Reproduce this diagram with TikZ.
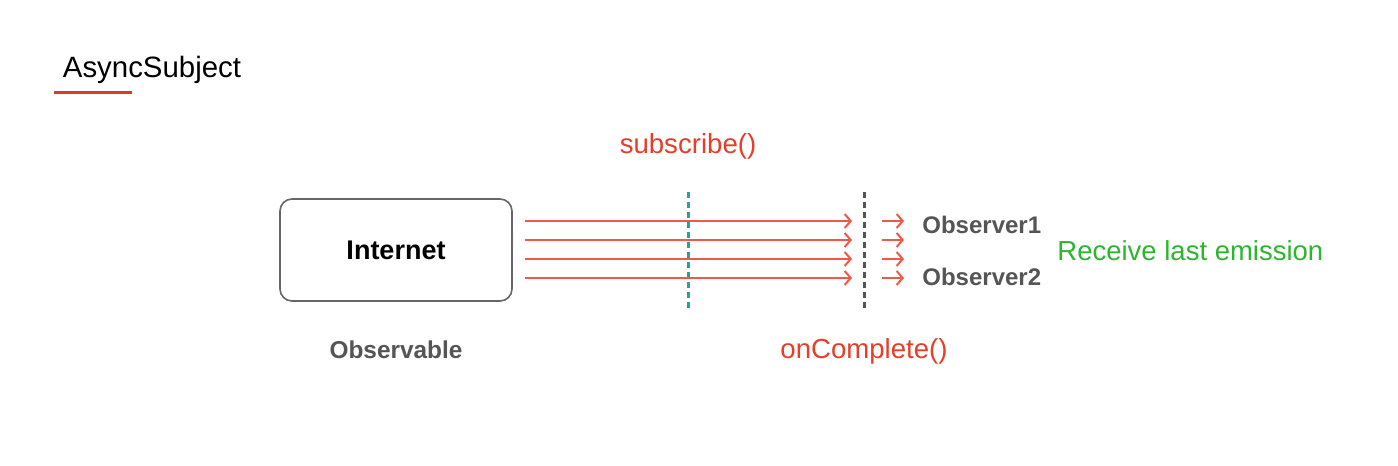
\documentclass[tikz,border=0pt]{standalone}
\usepackage{fontspec}
\setmainfont{Liberation Sans}
\usetikzlibrary{arrows.meta,positioning}
\definecolor{emitred}{HTML}{F0584A}
\definecolor{labelred}{HTML}{E53E2A}
\definecolor{subteal}{HTML}{22A39B}
\definecolor{textgray}{HTML}{555555}
\definecolor{lastgreen}{HTML}{2DB52D}
\tikzset{
    source/.style={
    rectangle,rounded corners=6pt,draw=black!60,line width=0.8pt,minimum width=116pt,minimum height=51pt,font=\fontsize{13.5}{16}\selectfont\bfseries
    },
    caption/.style={
    text=textgray,font=\fontsize{12.2}{14}\selectfont\bfseries,inner sep=0pt
    },
    observer/.style={
    text=textgray,font=\fontsize{12}{14}\selectfont\bfseries,inner sep=0pt,anchor=west
    },
    call/.style={
    text=labelred,font=\fontsize{13.8}{16}\selectfont,inner sep=0pt
    },
    emission/.style={
    draw=emitred,line width=1.4pt,-{Straight Barb[length=3pt,width=7pt,line width=1pt]}
    },
    marker/.style={
    line width=1.5pt,dash pattern=on 3pt off 2pt
    },
}
\begin{document}
\begin{tikzpicture}[x=0.5pt,y=-0.5pt]
   \useasboundingbox (0,0) rectangle (1398,466);
   \node[inner sep=0pt,font=\fontsize{14.7}{17}\selectfont] (title) at (152,70) {AsyncSubject};
   \draw[draw=labelred!95!black,line width=1.5pt] (54,92) -- (132,92);

   \node[source] (net) at (396,250) {Internet};
   \node[caption] (obs) at (396,350) {Observable};
   \node[call] (sub) at (688,146) {subscribe()};
   \node[call] (done) at (864,351) {onComplete()};
   \node[observer] (o1) at (922,225) {Observer1};
   \node[observer] (o2) at (922,277) {Observer2};
   \node[inner sep=0pt,anchor=west,text=lastgreen,font=\fontsize{13.75}{16}\selectfont] (last) at (1057,251) {Receive last emission};

   \coordinate (subtop) at (688,192);
   \coordinate (subbot) at (688,308);
   \coordinate (donetop) at (864,192);
   \coordinate (donebot) at (864,308);
   \draw[marker,draw=subteal] (subtop) -- (subbot);
   \draw[marker,draw=textgray] (donetop) -- (donebot);

   \foreach \i/\y in {1/221,2/240,3/259,4/278} {
     \coordinate (s\i) at (525,\y);
     \coordinate (e\i) at (852,\y);
     \coordinate (f\i) at (882,\y);
     \coordinate (g\i) at (904,\y);
     \draw[emission] (s\i) -- (e\i);
     \draw[emission] (f\i) -- (g\i);
   }
\end{tikzpicture}
\end{document}
